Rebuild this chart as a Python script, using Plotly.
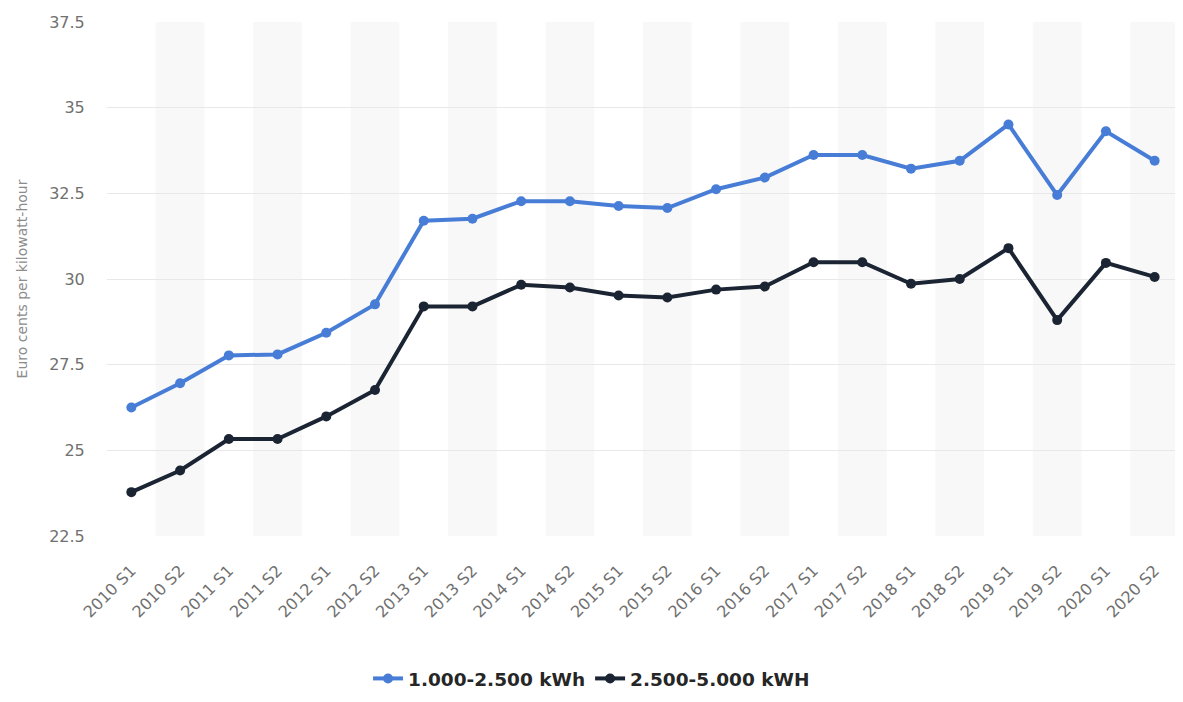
import plotly.graph_objects as go

categories = ["2010 S1", "2010 S2", "2011 S1", "2011 S2", "2012 S1", "2012 S2",
              "2013 S1", "2013 S2", "2014 S1", "2014 S2", "2015 S1", "2015 S2",
              "2016 S1", "2016 S2", "2017 S1", "2017 S2", "2018 S1", "2018 S2",
              "2019 S1", "2019 S2", "2020 S1", "2020 S2"]

small_households = [26.25, 26.96, 27.77, 27.8, 28.43, 29.26,
                    31.7, 31.76, 32.27, 32.27, 32.13, 32.07,
                    32.62, 32.96, 33.62, 33.62, 33.22, 33.45,
                    34.51, 32.45, 34.31, 33.45]

large_households = [23.78, 24.41, 25.33, 25.33, 25.99, 26.76,
                    29.2, 29.2, 29.83, 29.75, 29.52, 29.46,
                    29.69, 29.78, 30.49, 30.49, 29.86, 30.0,
                    30.9, 28.8, 30.47, 30.06]

y_ticks = [22.5, 25, 27.5, 30, 32.5, 35, 37.5]

series_names = ["1.000-2.500 kWh", "2.500-5.000 kWH"]
series_colors = ["#477dd6", "#1b2433"]

fig = go.Figure()
for name, vals, col in zip(series_names, [small_households, large_households], series_colors):
    fig.add_trace(go.Scatter(
        x=categories, y=vals, name=name, mode="lines+markers",
        line=dict(color=col, width=4),
        marker=dict(color=col, size=10),
    ))

# alternating column shading (every S2 category)
shapes = []
for i, c in enumerate(categories):
    if i % 2 == 1:
        shapes.append(dict(type="rect", xref="x", yref="paper",
                           x0=i - 0.5, x1=i + 0.5, y0=0, y1=1,
                           fillcolor="#f8f8f8", line=dict(width=0), layer="below"))

# page body has an 8px margin, so the figure is drawn 8px in from the window edge
fig.update_layout(
    width=1175, height=694,
    margin=dict(l=99, r=4, t=14, b=158),
    paper_bgcolor="white", plot_bgcolor="white",
    shapes=shapes,
    font=dict(family="DejaVu Sans, sans-serif", color="#707070", size=15),
    legend=dict(orientation="h", x=0.452, xanchor="center", y=-0.278, yanchor="middle",
                font=dict(size=18.5, color="#262626", family="DejaVu Sans, sans-serif",
                          weight="bold"),
                itemwidth=30, tracegroupgap=0),
    showlegend=True,
)
fig.update_xaxes(
    type="category", range=[-0.5, len(categories) - 0.5], automargin=False,
    tickangle=-45, showgrid=False, showline=False, zeroline=False,
    tickfont=dict(size=16, color="#707070", family="DejaVu Sans, sans-serif"),
    ticks="outside", ticklen=18, tickcolor="rgba(0,0,0,0)",
)
fig.update_yaxes(
    range=[22.5, 37.5], tickvals=y_ticks, ticktext=[f"{v:g}" for v in y_ticks],
    automargin=False,
    showgrid=True, gridcolor="#e8e8e8", gridwidth=1, zeroline=False, showline=False,
    tickfont=dict(size=16, color="#707070", family="DejaVu Sans, sans-serif"),
    ticks="outside", ticklen=18, tickcolor="rgba(0,0,0,0)",
    title=dict(text="Euro cents per kilowatt-hour",
               font=dict(size=14, color="#8c8c8c", family="DejaVu Sans, sans-serif"),
               standoff=18),
)

fig.write_html("out.html")
